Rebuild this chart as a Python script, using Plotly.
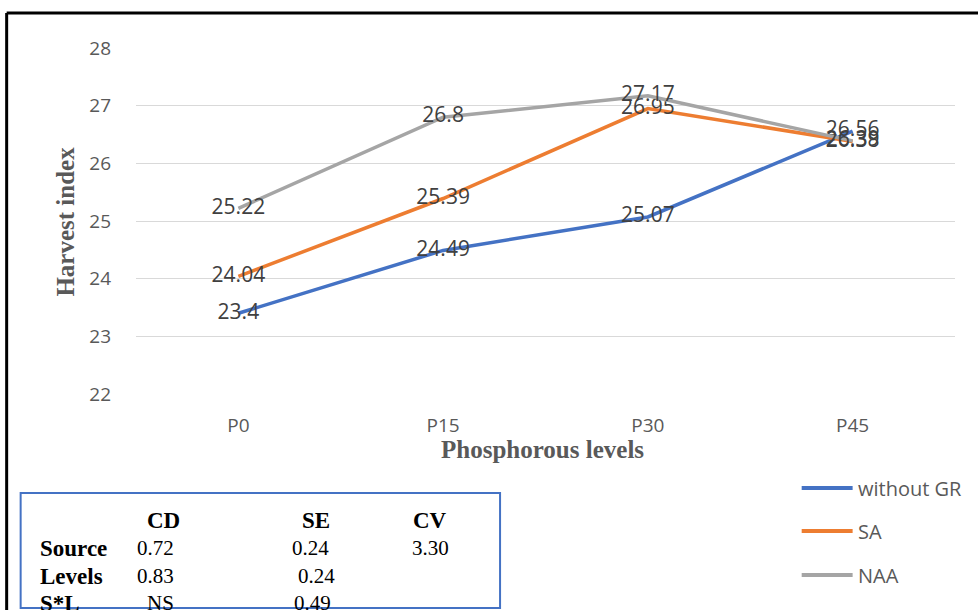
import plotly.graph_objects as go

# Chart data
levels = ["P0", "P15", "P30", "P45"]
without_gr = [23.4, 24.49, 25.07, 26.56]
sa = [24.04, 25.39, 26.95, 26.38]
naa = [25.22, 26.8, 27.17, 26.39]
series_names = ["without GR", "SA", "NAA"]
series_colors = ["#4472C4", "#ED7D31", "#A5A5A5"]

# Statistics table
table_cols = ["CD", "SE", "CV"]
table_rows = ["Source", "Levels", "S*L"]
table_vals = [["0.72", "0.24", "3.30"],
              ["0.83", "0.24", ""],
              ["NS", "0.49", ""]]

W, H = 978, 610
L, R, T, B = 135.5, 22.5, 48, 216
PW, PH = W - L - R, H - T - B


def px(x):
    return (x - L) / PW


def py(y):
    return (H - B - y) / PH


fig = go.Figure()
for name, vals, col in zip(series_names, [without_gr, sa, naa], series_colors):
    fig.add_trace(go.Scatter(
        x=levels, y=vals, mode="lines+text", name=name,
        line=dict(color=col, width=3.5),
        text=[f"{v:g}" for v in vals], textposition="middle center",
        textfont=dict(family="Open Sans", size=21, color="#404040"),
        showlegend=False, cliponaxis=False,
    ))

shapes = []
annotations = []

# outer frame (top and left edges)
shapes.append(dict(type="line", xref="paper", yref="paper",
                   x0=px(6), x1=px(990), y0=py(13), y1=py(13),
                   line=dict(color="black", width=3)))
shapes.append(dict(type="line", xref="paper", yref="paper",
                   x0=px(6), x1=px(6), y0=py(13), y1=py(620),
                   line=dict(color="black", width=3)))

# legend drawn at the lower right
leg_y = [488, 531, 575]
for name, col, yy in zip(series_names, series_colors, leg_y):
    shapes.append(dict(type="line", xref="paper", yref="paper",
                       x0=px(802), x1=px(853), y0=py(yy), y1=py(yy),
                       line=dict(color=col, width=4)))
    annotations.append(dict(xref="paper", yref="paper", x=px(856), y=py(yy),
                            text=name, showarrow=False, xanchor="left",
                            yanchor="middle",
                            font=dict(family="Open Sans", size=20, color="#595959")))

# statistics box
shapes.append(dict(type="rect", xref="paper", yref="paper",
                   x0=px(20), x1=px(500), y0=py(493), y1=py(608),
                   line=dict(color="#4472C4", width=2)))
col_x = [163, 316, 430]
val_x = [[155, 310, 430], [155, 316, 430], [160, 312, 430]]
row_y = [520, 548, 576, 603]
bfont = dict(family="Liberation Serif", size=23, color="black")
vfont = dict(family="Liberation Serif", size=21, color="black")
for cx, c in zip(col_x, table_cols):
    annotations.append(dict(xref="paper", yref="paper", x=px(cx), y=py(row_y[0]),
                            text=f"<b>{c}</b>", showarrow=False,
                            xanchor="center", yanchor="middle", font=bfont))
for ry, rname, vals, xs in zip(row_y[1:], table_rows, table_vals, val_x):
    annotations.append(dict(xref="paper", yref="paper", x=px(37), y=py(ry),
                            text=f"<b>{rname}</b>", showarrow=False,
                            xanchor="left", yanchor="middle", font=bfont))
    for vx, v in zip(xs, vals):
        if v:
            annotations.append(dict(xref="paper", yref="paper", x=px(vx), y=py(ry),
                                    text=v, showarrow=False, xanchor="center",
                                    yanchor="middle", font=vfont))

# axis titles
annotations.append(dict(xref="paper", yref="paper", x=px(542), y=py(449),
                        text="<b>Phosphorous levels</b>", showarrow=False,
                        xanchor="center", yanchor="middle",
                        font=dict(family="Liberation Serif", size=25, color="#595959")))
annotations.append(dict(xref="paper", yref="paper", x=px(64), y=py(222),
                        text="<b>Harvest index</b>", showarrow=False, textangle=-90,
                        xanchor="center", yanchor="middle",
                        font=dict(family="Liberation Serif", size=25, color="#595959")))

fig.update_layout(
    width=W, height=H,
    margin=dict(l=L, r=R, t=T, b=B, autoexpand=False),
    paper_bgcolor="white", plot_bgcolor="white",
    shapes=shapes, annotations=annotations,
    showlegend=False,
    xaxis=dict(type="category", range=[-0.5, 3.5], showgrid=False,
               showline=False, ticks="",
               tickfont=dict(family="Open Sans", size=19, color="#595959"),
               ticklabelstandoff=18, zeroline=False),
    yaxis=dict(range=[22, 28], dtick=1, showgrid=True, gridcolor="#D9D9D9",
               gridwidth=1, zeroline=False, showline=False, ticks="",
               tickfont=dict(family="Open Sans", size=19, color="#595959"),
               ticklabelstandoff=24),
)

fig.write_html("out.html")
